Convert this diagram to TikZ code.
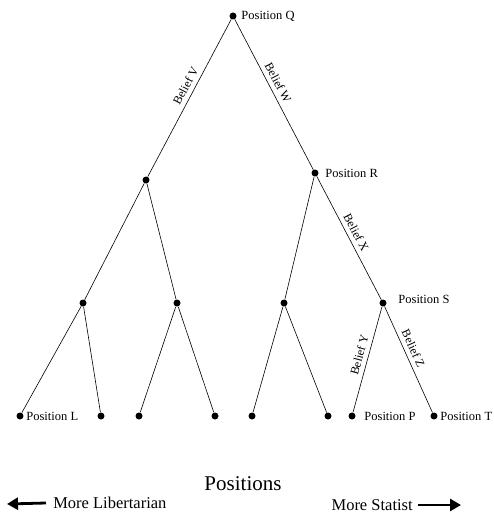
\documentclass[tikz,border=0pt]{standalone}
\usepackage{fontspec}
\setmainfont{Liberation Serif}
\usetikzlibrary{arrows.meta}

\tikzset{
    dot/.style={circle,fill=black,inner sep=0pt,minimum size=7pt},
    belief/.style={sloped,above,inner sep=4.5pt,font=\fontsize{12}{14}\selectfont},
    poslabel/.style={font=\fontsize{12.5}{14}\selectfont},
    caption/.style={font=\fontsize{16.5}{20}\selectfont,inner sep=1pt},
    bigarrow/.style={line width=2.8pt,-{Triangle[length=11pt,width=12pt]}}
}

\begin{document}
\begin{tikzpicture}[x=1pt,y=-1pt,line width=.6pt]
        \useasboundingbox (0,0) rectangle (493,513);

        %Top position
        \node[dot,label={[poslabel,label distance=1pt]right:Position Q}] (q) at (233,16) {};

        %Second level
        \node[dot] (a) at (146,180) {};
        \node[dot,label={[poslabel,label distance=3pt]right:Position R}] (r) at (315,173) {};

        %Third level
        \node[dot] (b) at (83,303) {};
        \node[dot] (c) at (177,303) {};
        \node[dot] (d) at (284,303) {};
        \node[dot,label={[poslabel,label distance=8pt,yshift=4pt]right:Position S}] (s) at (383,303) {};

        %Leaves
        \node[dot,label={[poslabel,label distance=-1pt]right:Position L}] (l) at (20,416) {};
        \node[dot] (b2) at (101,416) {};
        \node[dot] (c1) at (139,416) {};
        \node[dot] (c2) at (215,416) {};
        \node[dot] (d1) at (252,416) {};
        \node[dot] (d2) at (328,416) {};
        \node[dot,label={[poslabel,label distance=5pt]right:Position P}] (p) at (352,416) {};
        \node[dot,label={[poslabel,label distance=-1pt]right:Position T}] (t) at (434,416) {};

        %Branches with beliefs
        \draw (q) -- node[belief,pos=.45] {Belief V} (a);
        \draw (q) -- node[belief,pos=.45] {Belief W} (r);
        \draw (r) -- node[belief,pos=.49] {Belief X} (s);
        \draw (s) -- node[belief,pos=.48] {Belief Y} (p);
        \draw (s) -- node[belief,pos=.43] {Belief Z} (t);

        %Other branches
        \draw (a) -- (b);
        \draw (a) -- (c);
        \draw (r) -- (d);
        \draw (b) -- (l);
        \draw (b) -- (b2);
        \draw (c) -- (c1);
        \draw (c) -- (c2);
        \draw (d) -- (d1);
        \draw (d) -- (d2);

        %Axis caption
        \node[font=\fontsize{21}{24}\selectfont] (axis) at (243,484) {Positions};
        \node[caption,anchor=west] (lib) at (52,503) {More Libertarian};
        \node[caption,anchor=east] (stat) at (414,505) {More Statist};
        \coordinate (libend) at (7,504);
        \coordinate (statend) at (461,505);
        \draw[bigarrow] ([xshift=-6pt]lib.west) -- (libend);
        \draw[bigarrow] ([xshift=4pt]stat.east) -- (statend);

\end{tikzpicture}
\end{document}
